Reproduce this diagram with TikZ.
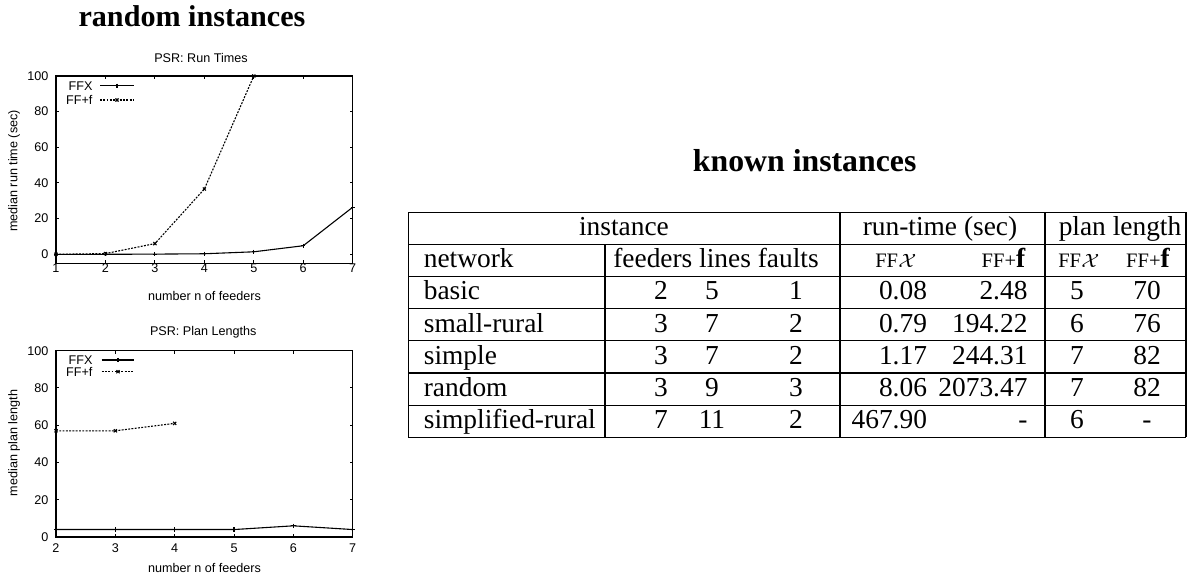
\documentclass[tikz,border=0pt]{standalone}
\usepackage{fontspec}
\setmainfont{Liberation Serif}
\newfontfamily\plotfont{Liberation Sans}
\begin{document}
\begin{tikzpicture}[x=0.365pt,y=-0.365pt,
  pf/.style={font=\plotfont\fontsize{4.6}{5.5}\selectfont, inner sep=0pt},
  plotframe/.style={line width=0.5pt},
  tick/.style={line width=0.35pt},
  ffx/.style={line width=0.4pt, mark=+, mark size=0.8pt},
  fff/.style={line width=0.4pt, dash pattern=on 0.7pt off 0.5pt, mark=x, mark size=0.8pt, mark options={solid}},
  headline/.style={font=\bfseries\fontsize{11.6}{14}\selectfont, inner sep=0pt},
  tab/.style={font=\fontsize{10}{12}\selectfont, inner sep=0pt, anchor=base},
  tline/.style={line width=0.45pt},
  ffsmall/.style={font=\fontsize{7.5}{9}\selectfont, inner sep=0pt, anchor=base}]
\useasboundingbox (0,0) rectangle (1188,577);

% section headings
\node[headline, font=\bfseries\fontsize{11}{13}\selectfont, anchor=base west] (rtitle) at (78,26.7) {random instances};
\node[headline, anchor=base] (ktitle) at (804.7,171.5) {known instances};

% ---------------- run times plot ----------------
\node[pf] (rt-title) at (201,58) {PSR: Run Times};
\node[pf, rotate=90] (rt-ylab) at (14,171) {median run time (sec)};
\node[pf] (rt-xlab) at (204.5,295.7) {number n of feeders};
\foreach \v in {0,20,...,100}
  \node[pf, anchor=east] (rt-y\v) at (49,254.3-\v*1.783) {\v};
\foreach \v in {1,...,7}
  \node[pf] (rt-x\v) at (56+\v*49.45-49.45,268.3) {\v};
\begin{scope}[shift={(6.55,254.3)}, x=18.05pt, y=0.6508pt]
  \draw[plotframe] (1,-5) rectangle (7,100);
  \foreach \v in {0,20,...,100} {
    \draw[tick] (1,\v) -- ++(1.1pt,0pt);
    \draw[tick] (7,\v) -- ++(-1.1pt,0pt);
  }
  \foreach \v in {1,...,7} {
    \draw[tick] (\v,-5) -- ++(0pt,1.1pt);
    \draw[tick] (\v,100) -- ++(0pt,-1.1pt);
  }
  \draw[ffx] plot coordinates {(1,0) (2,0) (3,0.1) (4,0.3) (5,1.4) (6,4.8) (7,26.4)};
  \draw[fff] plot coordinates {(1,0) (2,0.4) (3,6) (4,36.6) (5,100)};
\end{scope}
% legend
\node[pf, anchor=east] (rt-l1) at (93,85.7) {FFX};
\coordinate (rt-l1a) at (100,85.7);
\coordinate (rt-l1b) at (134,85.7);
\draw[line width=0.4pt] (rt-l1a) -- (rt-l1b);
\draw[ffx] plot coordinates {(117,85.7)};
\node[pf, anchor=east] (rt-l2) at (93,100) {FF+f};
\coordinate (rt-l2a) at (100,100);
\coordinate (rt-l2b) at (134,100);
\draw[fff] (rt-l2a) -- (rt-l2b);
\draw[fff] plot coordinates {(117,100)};

% ---------------- plan lengths plot ----------------
\node[pf] (pl-title) at (203.3,332.3) {PSR: Plan Lengths};
\node[pf, rotate=90] (pl-ylab) at (14,443) {median plan length};
\node[pf] (pl-xlab) at (204.5,567.7) {number n of feeders};
\foreach \v in {0,20,...,100}
  \node[pf, anchor=east] (pl-y\v) at (49,537-\v*1.863) {\v};
\foreach \v in {2,...,7}
  \node[pf] (pl-x\v) at (56+\v*59.34-118.68,548.3) {\v};
\begin{scope}[shift={(-62.68,537)}, x=21.66pt, y=0.680pt]
  \draw[plotframe] (2,0) rectangle (7,100);
  \foreach \v in {0,20,...,100} {
    \draw[tick] (2,\v) -- ++(1.1pt,0pt);
    \draw[tick] (7,\v) -- ++(-1.1pt,0pt);
  }
  \foreach \v in {2,...,7} {
    \draw[tick] (\v,0) -- ++(0pt,1.1pt);
    \draw[tick] (\v,100) -- ++(0pt,-1.1pt);
  }
  \draw[ffx] plot coordinates {(2,4) (3,4) (4,4) (5,4) (6,6) (7,4)};
  \draw[fff] plot coordinates {(2,57) (3,57) (4,61)};
\end{scope}
% legend
\node[pf, anchor=east] (pl-l1) at (93,360) {FFX};
\coordinate (pl-l1a) at (101.7,360);
\coordinate (pl-l1b) at (134.3,360);
\draw[line width=0.4pt] (pl-l1a) -- (pl-l1b);
\draw[ffx] plot coordinates {(118,360)};
\node[pf, anchor=east] (pl-l2) at (93,371.7) {FF+f};
\coordinate (pl-l2a) at (101.7,371.7);
\coordinate (pl-l2b) at (134.3,371.7);
\draw[fff] (pl-l2a) -- (pl-l2b);
\draw[fff] plot coordinates {(118,371.7)};

% ---------------- table ----------------
\foreach \y in {212.5,244.2,276.4,308.6,340.8,373,405.2,437.4}
  \draw[tline] (408.3,\y) -- (1186,\y);
\draw[tline] (408.3,212.5) -- (408.3,437.4);
\draw[tline] (605,244.2) -- (605,437.4);
\draw[tline] (840,212.5) -- (840,437.4);
\draw[tline] (1045,212.5) -- (1045,437.4);
\draw[tline] (1186,212.5) -- (1186,437.4);

\node[tab] (h-inst) at (624,235.8) {instance};
\node[tab] (h-rt) at (940,235.8) {run-time (sec)};
\node[tab] (h-pl) at (1120,235.8) {plan length};
\node[tab, anchor=base west] (h-net) at (423.3,267.8) {network};
\node[tab] (h-flf) at (716,267.8) {feeders lines faults};
\node[ffsmall] (h-rtx) at (896,267.8) {FF$\mathcal{X}$};
\node[ffsmall] (h-rtf) at (1003.5,267.8) {FF+{\fontsize{10}{12}\selectfont\bfseries f}};
\node[ffsmall] (h-plx) at (1079,267.8) {FF$\mathcal{X}$};
\node[ffsmall] (h-plf) at (1148,267.8) {FF+{\fontsize{10}{12}\selectfont\bfseries f}};

\foreach \n/\a/\b/\c/\d/\e/\f/\g [count=\i] in
  {basic/2/5/1/0.08/2.48/5/70,
   small-rural/3/7/2/0.79/194.22/6/76,
   simple/3/7/2/1.17/244.31/7/82,
   random/3/9/3/8.06/2073.47/7/82,
   simplified-rural/7/11/2/467.90/-/6/-} {
  \pgfmathsetmacro{\yy}{300+(\i-1)*32.2}
  \node[tab, anchor=base west] (net\i) at (423.3,\yy) {\n};
  \node[tab] (fd\i) at (661,\yy) {\a};
  \node[tab] (ln\i) at (712,\yy) {\b};
  \node[tab] (ft\i) at (796,\yy) {\c};
  \node[tab, anchor=base east] (rx\i) at (927.5,\yy) {\d};
  \node[tab, anchor=base east] (rf\i) at (1028,\yy) {\e};
  \node[tab] (px\i) at (1077,\yy) {\f};
  \node[tab] (pf\i) at (1147,\yy) {\g};
}
\end{tikzpicture}
\end{document}
